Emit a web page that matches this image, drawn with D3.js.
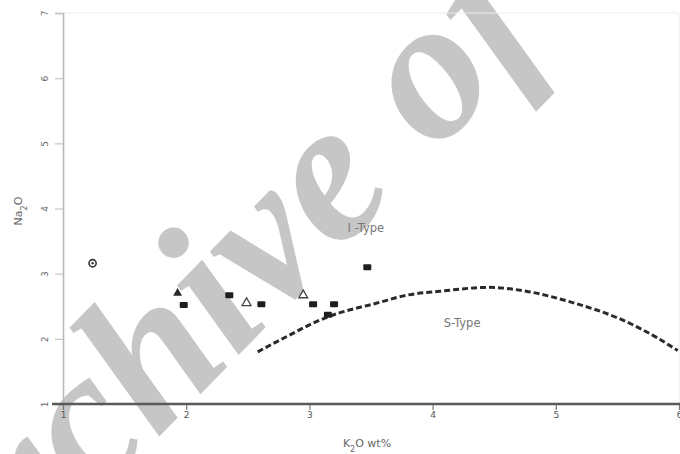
<!DOCTYPE html>
<html>
<head>
<meta charset="utf-8">
<script src="https://cdn.jsdelivr.net/npm/d3@7"></script>
<style>
  html, body { margin: 0; padding: 0; background: #fff; }
  svg { display: block; }
</style>
</head>
<body>
<svg id="chart" width="680" height="454"></svg>
<script>
// Axis ranges and ticks
const xTicks = [1, 2, 3, 4, 5, 6];
const yTicks = [1, 2, 3, 4, 5, 6, 7];

// Samples: K2O and Na2O (wt%) with marker kind
const sampleK2O  = [1.24, 1.93, 1.98, 2.35, 2.49, 2.61, 2.95, 3.03, 3.20, 3.15, 3.47];
const sampleNa2O = [3.16, 2.70, 2.52, 2.67, 2.55, 2.53, 2.67, 2.53, 2.53, 2.37, 3.10];
const sampleKind = ["ring", "triangle", "square", "square", "openTriangle", "square",
                    "openTriangle", "square", "square", "square", "square"];

// I-type / S-type boundary
const boundaryK2O  = [2.58, 2.76, 3.14, 3.57, 3.79, 4.06, 4.46, 4.76, 5.13, 5.54, 5.81, 5.99];
const boundaryNa2O = [1.80, 1.98, 2.33, 2.56, 2.67, 2.73, 2.79, 2.73, 2.56, 2.29, 2.03, 1.82];

const fieldLabels = [
  { text: "I -Type", k: 3.31, na: 3.64 },
  { text: "S-Type",  k: 4.09, na: 2.18 }
];

const svg = d3.select("#chart");
const x = d3.scaleLinear().domain([1, 6]).range([63, 679]);
const y = d3.scaleLinear().domain([1, 7]).range([404, 13]);

// Background watermark
svg.append("text")
  .attr("transform", "translate(-55,656) rotate(-45.7)")
  .attr("font-family", "Liberation Serif, serif")
  .attr("font-style", "italic")
  .attr("font-weight", "bold")
  .attr("font-size", 202)
  .attr("fill", "#c6c6c6")
  .text("Archive of");

// Plot frame (top / right), very faint
svg.append("path")
  .attr("d", `M${x(1)},${y(7)}H${x(6)}V${y(1)}`)
  .attr("fill", "none")
  .attr("stroke", "#eeeeee")
  .attr("stroke-width", 1);

// Y axis
const yAxis = svg.append("g").attr("transform", `translate(${x(1)},0)`)
  .call(d3.axisLeft(y).tickValues(yTicks).tickSize(8).tickFormat(d3.format("d")));
yAxis.select(".domain").attr("stroke", "#b9b9b9").attr("stroke-width", 1.6);
yAxis.selectAll(".tick line").attr("stroke", "#c4c4c4").attr("stroke-width", 1.2);
yAxis.selectAll(".tick text")
  .attr("fill", "#6a6a6a")
  .attr("font-family", "DejaVu Sans, sans-serif")
  .attr("font-size", 9)
  .attr("x", null).attr("dy", null)
  .attr("text-anchor", "middle")
  .attr("transform", "translate(-18,0) rotate(-90)")
  .attr("dominant-baseline", "central");

// X axis
const xAxis = svg.append("g").attr("transform", `translate(0,${y(1)})`)
  .call(d3.axisBottom(x).tickValues(xTicks).tickSize(6).tickFormat(d3.format("d")));
xAxis.select(".domain").remove();
xAxis.append("line")
  .attr("x1", 52).attr("x2", 680).attr("y1", 0).attr("y2", 0)
  .attr("stroke", "#5a5a5a").attr("stroke-width", 2.4);
xAxis.selectAll(".tick line").attr("stroke", "#777").attr("stroke-width", 1.2);
xAxis.selectAll(".tick text")
  .attr("fill", "#555")
  .attr("font-family", "DejaVu Sans, sans-serif")
  .attr("font-size", 9)
  .attr("y", 8);

// Axis titles
svg.append("text")
  .attr("transform", "translate(22,211) rotate(-90)")
  .attr("text-anchor", "middle")
  .attr("font-family", "DejaVu Sans, sans-serif")
  .attr("font-size", 11)
  .attr("fill", "#666")
  .html('Na<tspan baseline-shift="sub" font-size="8">2</tspan>O');

svg.append("text")
  .attr("x", 367).attr("y", 447)
  .attr("text-anchor", "middle")
  .attr("font-family", "DejaVu Sans, sans-serif")
  .attr("font-size", 11)
  .attr("fill", "#666")
  .html('K<tspan baseline-shift="sub" font-size="8">2</tspan>O wt%');

// Boundary curve
const boundary = boundaryK2O.map((k, i) => [k, boundaryNa2O[i]]);
svg.append("path")
  .datum(boundary)
  .attr("d", d3.line().x(d => x(d[0])).y(d => y(d[1])).curve(d3.curveMonotoneX))
  .attr("fill", "none")
  .attr("stroke", "#2a2a2a")
  .attr("stroke-width", 3)
  .attr("stroke-dasharray", "6,3");

// Field labels
svg.selectAll(".field").data(fieldLabels).enter().append("text")
  .attr("class", "field")
  .attr("x", d => x(d.k)).attr("y", d => y(d.na))
  .attr("font-family", "DejaVu Sans, sans-serif")
  .attr("font-size", 11.5)
  .attr("fill", "#777")
  .text(d => d.text);

// Sample markers
const samples = sampleK2O.map((k, i) => ({ k, na: sampleNa2O[i], kind: sampleKind[i] }));
const tri = d3.symbol().type(d3.symbolTriangle).size(34);
const g = svg.append("g");
samples.forEach(d => {
  const cx = x(d.k), cy = y(d.na);
  if (d.kind === "square") {
    g.append("rect").attr("x", cx - 4).attr("y", cy - 3).attr("width", 8).attr("height", 6)
      .attr("rx", 1).attr("fill", "#1e1e1e");
  } else if (d.kind === "triangle") {
    g.append("path").attr("d", tri()).attr("transform", `translate(${cx},${cy})`)
      .attr("fill", "#2a2a2a");
  } else if (d.kind === "openTriangle") {
    g.append("path").attr("d", tri()).attr("transform", `translate(${cx},${cy})`)
      .attr("fill", "none").attr("stroke", "#444").attr("stroke-width", 1.3);
  } else {
    g.append("circle").attr("cx", cx).attr("cy", cy).attr("r", 3.6)
      .attr("fill", "#fff").attr("stroke", "#333").attr("stroke-width", 1.6);
    g.append("circle").attr("cx", cx).attr("cy", cy).attr("r", 1.2).attr("fill", "#333");
  }
});
</script>
</body>
</html>
